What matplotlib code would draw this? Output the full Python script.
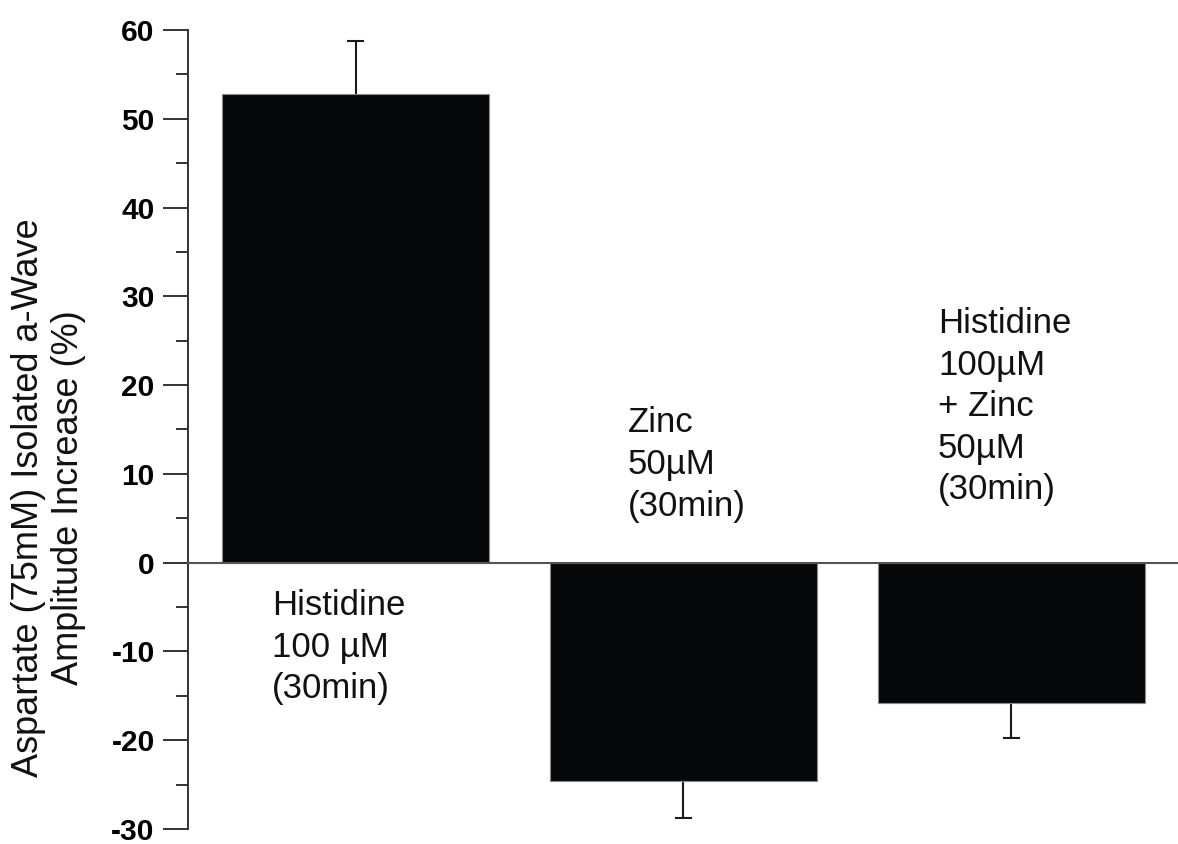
import matplotlib
matplotlib.use("Agg")
import matplotlib.pyplot as plt
from matplotlib.ticker import MultipleLocator

plt.rcParams['font.family'] = ['Liberation Sans', 'DejaVu Sans']
plt.rcParams['axes.unicode_minus'] = False

# bar values (% increase) and one-sided SEM
groups = ["Histidine\n100 µM\n(30min)",
          "Zinc\n50µM\n(30min)",
          "Histidine\n100µM\n+ Zinc\n50µM\n(30min)"]
values = [52.8, -24.6, -15.8]
errors = [6.0, 4.2, 3.9]
label_pos = [(-0.255, -3.0), (0.83, 17.6), (1.776, 28.8)]   # (x, top y) of group text
yticks = [-30, -20, -10, 0, 10, 20, 30, 40, 50, 60]

fig = plt.figure(figsize=(11.78, 8.44), dpi=100)
ax = fig.add_axes([0.1596, 0.0178, 0.8404, 0.9467])

x = list(range(len(values)))
ax.bar(x, values, width=0.814, color="#060709", edgecolor="#8a8a8a", linewidth=0.8, zorder=2)

# error bars point away from zero only
ends = [v + e if v >= 0 else v - e for v, e in zip(values, errors)]
cap = 0.026
ax.vlines(x, values, ends, color="#1a1a1a", linewidth=1.5, zorder=1)
ax.hlines(ends, [i - cap for i in x], [i + cap for i in x], color="#1a1a1a", linewidth=1.5, zorder=1)

for (tx, ty), txt in zip(label_pos, groups):
    ax.text(tx, ty, txt, ha="left", va="top", fontsize=25, linespacing=1.33, color="#111111")

ax.set_xlim(-0.511, 2.508)
ax.set_ylim(-30, 60)
ax.set_yticks(yticks)
ax.yaxis.set_minor_locator(MultipleLocator(5))
ax.set_xticks([])

for lbl in ax.get_yticklabels():
    lbl.set_fontweight("bold")
    lbl.set_fontsize(21.5)
ax.tick_params(axis="y", which="major", length=18, width=1.4, color="#333333", pad=6)
ax.tick_params(axis="y", which="minor", length=9, width=1.4, color="#333333")

ax.spines["top"].set_visible(False)
ax.spines["right"].set_visible(False)
ax.spines["bottom"].set_position(("data", 0))
ax.spines["bottom"].set_color("#555555")
ax.spines["bottom"].set_linewidth(1.5)
ax.spines["left"].set_color("#333333")
ax.spines["left"].set_linewidth(1.4)

fig.text(0.041, 0.41, "Aspartate (75mM) Isolated a-Wave\nAmplitude Increase (%)",
         rotation=90, ha="center", va="center", multialignment="center",
         fontsize=26, linespacing=1.2, color="#111111")

plt.savefig("out.png", dpi=100, facecolor="white")
